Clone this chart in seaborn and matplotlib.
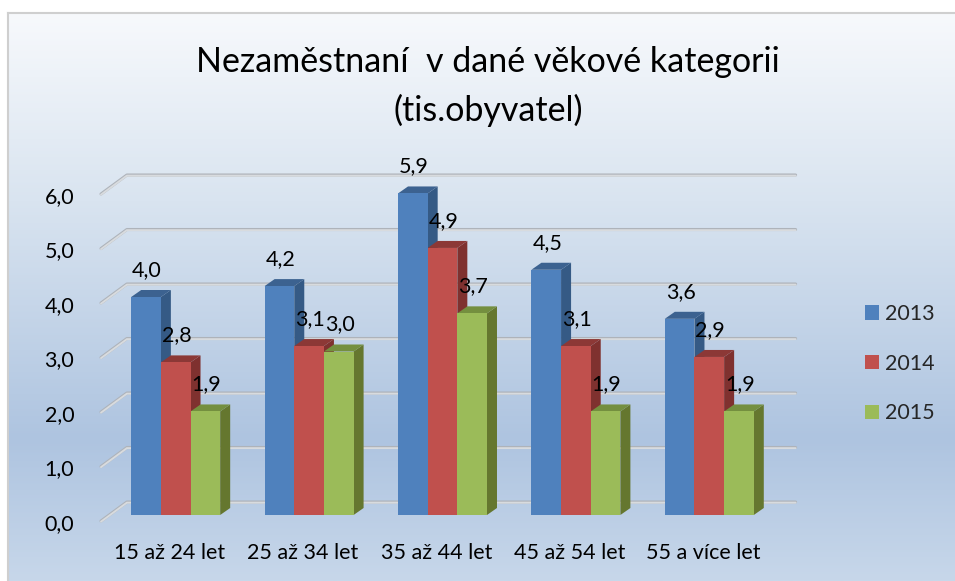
import matplotlib
matplotlib.use("Agg")
import matplotlib.pyplot as plt
import numpy as np
import pandas as pd
import seaborn as sns
from matplotlib.colors import LinearSegmentedColormap
from matplotlib.transforms import ScaledTranslation

categories = ["15 až 24 let", "25 až 34 let", "35 až 44 let", "45 až 54 let", "55 a více let"]
years = ["2013", "2014", "2015"]
values_2013 = [4.0, 4.2, 5.9, 4.5, 3.6]
values_2014 = [2.8, 3.1, 4.9, 3.1, 2.9]
values_2015 = [1.9, 3.0, 3.7, 1.9, 1.9]
y_ticks = [0, 1, 2, 3, 4, 5, 6]

front_colors = ["#4f81bd", "#c0504d", "#9bbb59"]
side_colors = ["#355a85", "#7f312f", "#65772f"]
top_colors = ["#3c6290", "#8c3836", "#748f3f"]

W, H = 955, 581
FONT = 15.5
# one category is 133.4 px wide, one unit of y is 54.5 px high
CAT_PX, UNIT_PX = 133.4, 54.5
DX, DY = 10 / CAT_PX, 7 / UNIT_PX

sns.set_theme(style="white")
plt.rcParams["font.family"] = ["Lato", "DejaVu Sans"]

fig = plt.figure(figsize=(W / 100, H / 100), dpi=100, facecolor="white")

# gradient background
bg = fig.add_axes([8 / W, 0, 1 - 8 / W, 1 - 13 / H], zorder=0)
bg_cmap = LinearSegmentedColormap.from_list(
    "bg", [(0, "#f7f9fc"), (0.33, "#d9e4f0"), (0.75, "#aec4e0"), (1, "#c7d7ea")]
)
bg.imshow(np.linspace(0, 1, 256).reshape(-1, 1), aspect="auto", cmap=bg_cmap)
bg.set_xticks([])
bg.set_yticks([])
for name, spine in bg.spines.items():
    spine.set_visible(name in ("left", "top"))
    spine.set_color("#cfcfcf")
    spine.set_linewidth(1.5)

ax = fig.add_axes([109 / W, (H - 515) / H, CAT_PX * 5 / W, UNIT_PX * 6 / H], zorder=1)
ax.patch.set_alpha(0)

df = pd.DataFrame({
    "kategorie": categories * 3,
    "rok": np.repeat(years, len(categories)),
    "hodnota": values_2013 + values_2014 + values_2015,
})
sns.barplot(
    data=df, x="kategorie", y="hodnota", hue="rok", palette=front_colors,
    width=0.667, gap=0, saturation=1, legend=False, ax=ax, zorder=3, linewidth=0,
)
ax.set_xlim(-0.5, 4.5)
ax.set_ylim(0, 6)

# fake 3d walls with grid lines
for v in y_ticks:
    back = v + 13 / UNIT_PX
    front = v - 6 / UNIT_PX
    xs = [-0.56, -0.366, 4.647]
    ys = [front, back, back]
    ax.plot(xs, ys, color="#aeb3ba", lw=2.2, clip_on=False, zorder=1, solid_capstyle="round")
    ax.plot(xs, [y - 0.012 for y in ys], color="#d8dbde", lw=1.4, clip_on=False, zorder=1.1)

# side and top faces of every bar, then the value labels
for i, container in enumerate(ax.containers):
    for bar in container:
        x0, w, h = bar.get_x(), bar.get_width(), bar.get_height()
        x1 = x0 + w
        ax.fill([x1, x1 + DX, x1 + DX, x1], [0, DY, h + DY, h],
                color=side_colors[i], lw=0, clip_on=False, zorder=2)
        ax.fill([x0, x0 + DX, x1 + DX, x1], [h, h + DY, h + DY, h],
                color=top_colors[i], lw=0, clip_on=False, zorder=2)
        ax.annotate(f"{h:.1f}".replace(".", ","), (x0 + w / 2, h), xytext=(1, 27),
                    textcoords="offset pixels", ha="center", va="center",
                    fontsize=FONT, color="black", zorder=5, annotation_clip=False)

sns.despine(ax=ax, left=True, bottom=True)
ax.set_xlabel("")
ax.set_ylabel("")
ax.set_yticks(y_ticks)
ax.set_yticklabels([f"{v:.1f}".replace(".", ",") for v in y_ticks])
ax.tick_params(axis="both", length=0, labelsize=FONT, labelcolor="black")
ax.tick_params(axis="x", pad=20)
ax.tick_params(axis="y", pad=25)
for label in ax.get_yticklabels():
    label.set_transform(label.get_transform() + ScaledTranslation(0, -7 / 100, fig.dpi_scale_trans))
for label in ax.get_xticklabels():
    label.set_transform(label.get_transform() + ScaledTranslation(-6 / 100, 0, fig.dpi_scale_trans))

ax.legend(
    ax.containers, years, loc="upper left", bbox_to_anchor=(865 / W, 1 - 304 / H),
    bbox_transform=fig.transFigure, frameon=False, fontsize=FONT,
    handlelength=0.65, handleheight=0.65, handletextpad=0.3, labelspacing=1.38,
    borderpad=0, borderaxespad=0,
)

fig.text(488 / W, 1 - 62 / H, "Nezaměstnaní  v dané věkové kategorii", ha="center", va="center",
         fontsize=24.5, color="black")
fig.text(488 / W, 1 - 110 / H, "(tis.obyvatel)", ha="center", va="center", fontsize=24.5, color="black")

fig.savefig("out.png", dpi=100)
